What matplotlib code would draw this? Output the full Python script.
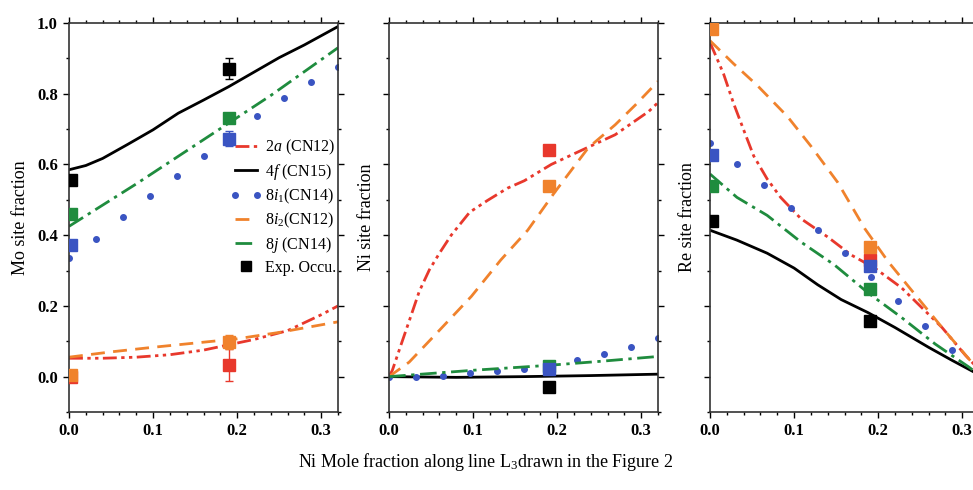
import numpy as np
import matplotlib
matplotlib.use("Agg")
import matplotlib.pyplot as plt
from matplotlib.lines import Line2D
from matplotlib.legend_handler import HandlerLine2D
from matplotlib.ticker import MultipleLocator

plt.rcParams["font.family"] = ["Liberation Serif", "DejaVu Serif"]
plt.rcParams["mathtext.fontset"] = "custom"
plt.rcParams["mathtext.rm"] = "Liberation Serif"
plt.rcParams["mathtext.it"] = "Liberation Serif:italic"

# ............................................
# DATA
# ............................................
# Mo site fraction
mo_2a_x = [0, 0.04, 0.08, 0.12, 0.16, 0.19, 0.22, 0.26, 0.30, 0.32]
mo_2a = [0.052, 0.052, 0.055, 0.062, 0.075, 0.09, 0.105, 0.13, 0.175, 0.2]
mo_4f_x = [0, 0.02, 0.04, 0.07, 0.1, 0.13, 0.16, 0.19, 0.22, 0.25, 0.28, 0.32]
mo_4f = [0.585, 0.597, 0.617, 0.657, 0.698, 0.745, 0.782, 0.82, 0.861, 0.902,
         0.938, 0.99]
mo_8i1_x = [0, 0.032, 0.064, 0.096, 0.128, 0.16, 0.192, 0.224, 0.256, 0.288, 0.32]
mo_8i1 = [0.335, 0.39, 0.45, 0.51, 0.568, 0.624, 0.68, 0.738, 0.787, 0.834, 0.876]
mo_8i2_x = [0, 0.05, 0.1, 0.15, 0.2, 0.25, 0.32]
mo_8i2 = [0.055, 0.07, 0.083, 0.095, 0.107, 0.125, 0.155]
mo_8j_x = [0, 0.08, 0.16, 0.24, 0.32]
mo_8j = [0.425, 0.545, 0.67, 0.795, 0.93]

# Ni site fraction
ni_2a_x = [0, 0.004, 0.014, 0.026, 0.036, 0.048, 0.06, 0.074, 0.096, 0.117,
           0.141, 0.161, 0.193, 0.229, 0.269, 0.309, 0.32]
ni_2a = [0, 0.018, 0.088, 0.171, 0.241, 0.302, 0.349, 0.4, 0.465, 0.498,
         0.533, 0.554, 0.6, 0.64, 0.684, 0.75, 0.775]
ni_4f_x = [0, 0.08, 0.16, 0.24, 0.32]
ni_4f = [0, -0.002, 0, 0.003, 0.007]
ni_8i1_x = mo_8i1_x
ni_8i1 = [0, 0.0, 0.003, 0.01, 0.015, 0.023, 0.033, 0.046, 0.063, 0.085, 0.11]
ni_8i2_x = [0, 0.024, 0.054, 0.098, 0.133, 0.165, 0.197, 0.237, 0.269, 0.293, 0.32]
ni_8i2 = [0, 0.041, 0.116, 0.227, 0.33, 0.414, 0.521, 0.647, 0.712, 0.768, 0.835]
ni_8j_x = [0, 0.1, 0.19, 0.25, 0.32]
ni_8j = [0, 0.018, 0.032, 0.043, 0.057]

# Re site fraction
re_2a_x = [0, 0.016, 0.028, 0.04, 0.052, 0.068, 0.084, 0.108, 0.14, 0.168,
           0.196, 0.228, 0.252, 0.276, 0.304, 0.32]
re_2a = [0.945, 0.857, 0.773, 0.698, 0.624, 0.559, 0.507, 0.447, 0.395, 0.344,
         0.307, 0.251, 0.195, 0.139, 0.06, 0.02]
re_4f_x = [0, 0.032, 0.068, 0.1, 0.128, 0.156, 0.188, 0.22, 0.26, 0.288, 0.314, 0.32]
re_4f = [0.414, 0.386, 0.349, 0.307, 0.26, 0.218, 0.181, 0.139, 0.083, 0.046,
         0.013, 0.005]
re_8i1_x = mo_8i1_x
re_8i1 = [0.661, 0.602, 0.543, 0.478, 0.416, 0.349, 0.281, 0.214, 0.144, 0.075, 0.005]
re_8i2_x = [0, 0.028, 0.056, 0.092, 0.12, 0.152, 0.184, 0.212, 0.244, 0.276,
            0.308, 0.32]
re_8i2 = [0.95, 0.885, 0.824, 0.736, 0.652, 0.549, 0.419, 0.325, 0.232, 0.139,
          0.05, 0.015]
re_8j_x = [0, 0.032, 0.068, 0.108, 0.148, 0.188, 0.228, 0.268, 0.308, 0.32]
re_8j = [0.573, 0.507, 0.456, 0.381, 0.316, 0.237, 0.167, 0.092, 0.027, 0.005]

# experimental occupations: (x, y, error)
mo_exp = {
    "red": ([0.002, 0.19], [0.0, 0.034], [0, 0.045]),
    "orange": ([0.002, 0.19], [0.004, 0.097], [0, 0.02]),
    "blue": ([0.002, 0.19], [0.372, 0.673], [0, 0.022]),
    "green": ([0.002, 0.19], [0.459, 0.731], [0, 0]),
    "black": ([0.002, 0.19], [0.557, 0.871], [0, 0.03]),
}
ni_exp = {
    "red": ([0.19], [0.642], [0]),
    "orange": ([0.19], [0.54], [0]),
    "green": ([0.19], [0.03], [0]),
    "blue": ([0.19], [0.021], [0]),
    "black": ([0.19], [-0.029], [0]),
}
re_exp = {
    "red": ([0.19], [0.33], [0]),
    "orange": ([0.002, 0.19], [0.983, 0.366], [0, 0]),
    "blue": ([0.002, 0.19], [0.627, 0.314], [0, 0]),
    "green": ([0.002, 0.19], [0.54, 0.249], [0, 0]),
    "black": ([0.002, 0.19], [0.44, 0.157], [0, 0.01]),
}

COL = {"red": "#e8382c", "orange": "#f0822c", "blue": "#3a54c2",
       "green": "#1f8c3e", "black": "black"}
DASH_2A = (5, 1.6, 1.2, 1.6, 1.2, 1.6)
DASH_8I2 = (5, 3)
DASH_8J = (6, 2, 1.2, 2)


def draw_panel(ax, s2a, s4f, s8i1, s8i2, s8j, exp):
    h2a, = ax.plot(*s2a, color=COL["red"], lw=2, dashes=DASH_2A,
                   label="2$\\mathit{a}$ (CN12)")
    h4f, = ax.plot(*s4f, color=COL["black"], lw=2, label="4$\\mathit{f}$ (CN15)")
    h8i1, = ax.plot(*s8i1, color=COL["blue"], ls="none", marker="o", ms=4,
                    label="8$\\mathit{i}_1$(CN14)")
    h8i2, = ax.plot(*s8i2, color=COL["orange"], lw=2, dashes=DASH_8I2,
                    label="8$\\mathit{i}_2$(CN12)")
    h8j, = ax.plot(*s8j, color=COL["green"], lw=2, dashes=DASH_8J,
                   label="8$\\mathit{j}$ (CN14)")
    for name, (x, y, e) in exp.items():
        ax.errorbar(x, y, yerr=e, fmt="s", ms=8, color=COL[name],
                    ecolor=COL[name], elinewidth=1, capsize=3, zorder=5)
    ax.set_xlim(0, 0.32)
    ax.set_ylim(-0.1, 1.0)
    ax.xaxis.set_major_locator(MultipleLocator(0.1))
    ax.xaxis.set_minor_locator(MultipleLocator(0.02))
    ax.yaxis.set_major_locator(MultipleLocator(0.2))
    ax.yaxis.set_minor_locator(MultipleLocator(0.1))
    ax.tick_params(which="both", direction="out", top=True, right=True, width=1)
    ax.tick_params(which="major", length=4.5, labelsize=12)
    ax.tick_params(which="minor", length=2.5)
    for lab in ax.get_xticklabels() + ax.get_yticklabels():
        lab.set_fontweight("bold")
    for sp in ax.spines.values():
        sp.set_linewidth(1.2)
        sp.set_color("#333333")
    return [h2a, h4f, h8i1, h8i2, h8j]


fig = plt.figure(figsize=(9.73, 4.9), dpi=100)
W, H = 973, 490
bottom = (H - 412) / H
height = 389 / H
width = 269 / W
ax1 = fig.add_axes([69 / W, bottom, width, height])
ax2 = fig.add_axes([389 / W, bottom, width, height])
ax3 = fig.add_axes([710 / W, bottom, width, height])

handles = draw_panel(ax1, (mo_2a_x, mo_2a), (mo_4f_x, mo_4f), (mo_8i1_x, mo_8i1),
                     (mo_8i2_x, mo_8i2), (mo_8j_x, mo_8j), mo_exp)
draw_panel(ax2, (ni_2a_x, ni_2a), (ni_4f_x, ni_4f), (ni_8i1_x, ni_8i1),
           (ni_8i2_x, ni_8i2), (ni_8j_x, ni_8j), ni_exp)
draw_panel(ax3, (re_2a_x, re_2a), (re_4f_x, re_4f), (re_8i1_x, re_8i1),
           (re_8i2_x, re_8i2), (re_8j_x, re_8j), re_exp)

for ax in (ax2, ax3):
    ax.tick_params(labelleft=False)

ax1.set_ylabel("Mo site fraction", fontsize=13, labelpad=6)
ax2.set_ylabel("Ni site fraction", fontsize=13, labelpad=4)
ax3.set_ylabel("Re site fraction", fontsize=13, labelpad=4)

# legend in the Mo panel
exp_handle = Line2D([], [], color="black", marker="s", ms=7, ls="none",
                    label="Exp. Occu.")
leg = ax1.legend(handles + [exp_handle], [h.get_label() for h in handles] + ["Exp. Occu."],
                 loc="upper left", bbox_to_anchor=(0.57, 0.725), frameon=False,
                 fontsize=11.5, handlelength=2.0, handletextpad=0.15,
                 labelspacing=0.3, borderpad=0, numpoints=2,
                 handler_map={exp_handle: HandlerLine2D(numpoints=1)})
for t in leg.get_texts():
    t.set_clip_on(True)
    t.set_clip_box(ax1.bbox)

fig.text(486 / W, 1 - 462 / H, "Ni Mole fraction along line L$_3$drawn in the Figure 2",
         ha="center", va="center", fontsize=13)

fig.savefig("out.png", dpi=100)
plt.close(fig)
